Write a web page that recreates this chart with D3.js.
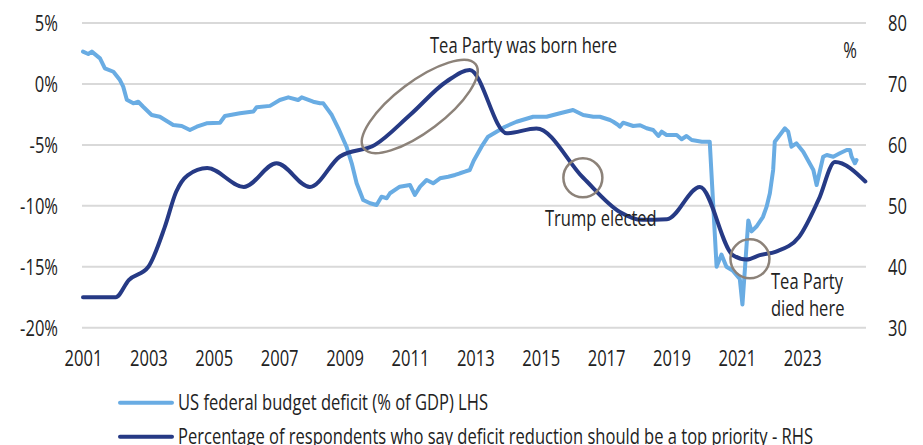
<!DOCTYPE html>
<html>
<head>
<meta charset="utf-8">
<script src="https://cdn.jsdelivr.net/npm/d3@7"></script>
<style>
  html, body { margin: 0; padding: 0; background: #fff; }
  svg text { font-family: "Open Sans", "Noto Sans", sans-serif; fill: #222; }
</style>
</head>
<body>
<svg id="chart" width="923" height="445"></svg>
<script>
// ---- data ----
const yearTicks = [2001, 2003, 2005, 2007, 2009, 2011, 2013, 2015, 2017, 2019, 2021, 2023];
const leftTicks = [5, 0, -5, -10, -15, -20];
const rightTicks = [80, 70, 60, 50, 40, 30];

// US federal budget deficit (% of GDP), LHS — date in decimal years
const deficitDates = [2001.0, 2001.16, 2001.27, 2001.52, 2001.67, 2001.93, 2002.13, 2002.23, 2002.34, 2002.54, 2002.69, 2002.84,
  2003.10, 2003.35, 2003.76, 2004.02, 2004.27, 2004.48, 2004.78, 2005.19, 2005.34, 2005.80, 2006.21, 2006.31, 2006.72,
  2007.02, 2007.28, 2007.58, 2007.69, 2008.04, 2008.25, 2008.35, 2008.61, 2008.81, 2009.06, 2009.22, 2009.37, 2009.57,
  2009.78, 2009.98, 2010.13, 2010.29, 2010.39, 2010.69, 2011.00, 2011.15, 2011.31, 2011.51, 2011.71, 2011.92, 2012.17,
  2012.38, 2012.53, 2012.68, 2012.83, 2012.95, 2013.19, 2013.39, 2013.65, 2013.91, 2014.26, 2014.77, 2015.18, 2015.59,
  2015.99, 2016.30, 2016.61, 2016.81, 2017.12, 2017.22, 2017.37, 2017.42, 2017.52, 2017.83, 2018.04, 2018.24, 2018.44,
  2018.60, 2018.70, 2018.85, 2019.16, 2019.31, 2019.46, 2019.62, 2019.93, 2020.17, 2020.38, 2020.53, 2020.68, 2020.87,
  2021.09, 2021.17, 2021.35, 2021.45, 2021.60, 2021.80, 2021.91, 2022.01, 2022.11, 2022.16, 2022.47, 2022.57, 2022.67,
  2022.82, 2023.03, 2023.34, 2023.44, 2023.64, 2023.75, 2023.95, 2024.15, 2024.36, 2024.46, 2024.51, 2024.61, 2024.66];
const deficitValues = [2.65, 2.46, 2.65, 2.1, 1.28, 1.0, 0.32, -0.22, -1.3, -1.59, -1.46, -1.87,
  -2.55, -2.69, -3.37, -3.45, -3.78, -3.51, -3.23, -3.18, -2.63, -2.41, -2.27, -1.92, -1.8,
  -1.32, -1.1, -1.32, -1.1, -1.46, -1.59, -1.59, -2.55, -3.64, -5.15, -6.51, -8.15, -9.52,
  -9.79, -9.93, -9.25, -9.38, -8.97, -8.43, -8.29, -9.11, -8.43, -7.88, -8.15, -7.74, -7.61,
  -7.47, -7.33, -7.2, -7.06, -6.3, -5.15, -4.33, -3.92, -3.51, -3.1, -2.69, -2.69, -2.41,
  -2.14, -2.55, -2.69, -2.69, -2.96, -3.1, -3.37, -3.51, -3.18, -3.45, -3.39, -3.64, -3.78,
  -4.27, -3.92, -4.19, -4.19, -4.54, -4.27, -4.6, -4.74, -4.74, -15.0, -14.0, -15.0, -15.3,
  -16.0, -18.1, -11.2, -12.1, -11.7, -10.9, -10.07, -8.97, -7.06, -4.74, -3.64, -3.92, -5.15,
  -4.87, -5.56, -7.06, -8.29, -5.97, -5.83, -5.97, -5.69, -5.42, -5.42, -5.97, -6.51, -6.24];

// Percentage of respondents: deficit reduction should be a top priority, RHS
const surveyDates = [2001.0, 2002.0, 2002.4, 2003.0, 2003.5, 2003.85, 2004.2, 2004.8, 2005.92, 2006.92, 2007.94, 2008.86,
  2009.93, 2011.0, 2012.12, 2012.83, 2013.96, 2014.87, 2016.3, 2017.42, 2018.1, 2018.86, 2019.87, 2020.88, 2021.3,
  2021.7, 2022.2, 2022.9, 2023.5, 2024.0, 2024.93];
const surveyValues = [35.0, 35.0, 37.8, 40.0, 46.5, 52.3, 55.0, 56.2, 53.1, 57.0, 53.1, 58.1,
  60.0, 64.9, 70.4, 72.3, 61.9, 62.7, 54.6, 49.0, 47.7, 47.8, 53.1, 41.9, 41.2,
  41.9, 42.5, 44.9, 51.0, 57.2, 54.0];

const legendLabels = ["US federal budget deficit (% of GDP) LHS",
  "Percentage of respondents who say deficit reduction should be a top priority - RHS"];

// ---- layout ----
const svg = d3.select("#chart");
const plot = { left: 83, right: 866, top: 23, bottom: 327.7 };
const x = d3.scaleLinear().domain([2001, 2024.95]).range([plot.left, plot.right]);
const yL = d3.scaleLinear().domain([-20, 5]).range([plot.bottom, plot.top]);
const yR = d3.scaleLinear().domain([30, 80]).range([plot.bottom, plot.top]);

const lightBlue = "#69ace3";
const navy = "#263a85";
const annoColor = "#8c8279";
const fontSize = 21;

// gridlines
svg.append("g").selectAll("line").data(leftTicks).join("line")
  .attr("x1", plot.left - 1).attr("x2", plot.right)
  .attr("y1", d => yL(d)).attr("y2", d => yL(d))
  .attr("stroke", "#d9d9d9").attr("stroke-width", 2);

// left axis
const gL = svg.append("g").attr("transform", `translate(58,0)`)
  .call(d3.axisLeft(yL).tickValues(leftTicks).tickSize(0).tickFormat(d => d + "%"));
gL.select(".domain").remove();
gL.selectAll("text").attr("font-size", fontSize).attr("x", 0).attr("dy", "0.36em");

// right axis
const gR = svg.append("g").attr("transform", `translate(888,0)`)
  .call(d3.axisRight(yR).tickValues(rightTicks).tickSize(0).tickFormat(d3.format("d")));
gR.select(".domain").remove();
gR.selectAll("text").attr("font-size", fontSize).attr("x", 0).attr("dy", "0.36em");

// bottom axis
const gB = svg.append("g").attr("transform", `translate(0,${plot.bottom})`)
  .call(d3.axisBottom(x).tickValues(yearTicks).tickSize(0).tickFormat(d3.format("d")));
gB.select(".domain").remove();
gB.selectAll("text").attr("font-size", fontSize).attr("y", 31).attr("dy", "0.36em");

// lines
const deficit = deficitDates.map((d, i) => [d, deficitValues[i]]);
const survey = surveyDates.map((d, i) => [d, surveyValues[i]]);

svg.append("path").datum(deficit)
  .attr("fill", "none").attr("stroke", lightBlue).attr("stroke-width", 4)
  .attr("stroke-linejoin", "round").attr("stroke-linecap", "round")
  .attr("d", d3.line().x(d => x(d[0])).y(d => yL(d[1])));

svg.append("path").datum(survey)
  .attr("fill", "none").attr("stroke", navy).attr("stroke-width", 4)
  .attr("stroke-linejoin", "round").attr("stroke-linecap", "round")
  .attr("d", d3.line().curve(d3.curveMonotoneX).x(d => x(d[0])).y(d => yR(d[1])));

// "%" unit label
svg.append("text").attr("x", 850).attr("y", 50).attr("text-anchor", "middle")
  .attr("dy", "0.36em").attr("font-size", fontSize).text("%");

// annotations
const anno = svg.append("g");
anno.append("ellipse")
  .attr("cx", x(2011.3)).attr("cy", yR(66.3)).attr("rx", 70).attr("ry", 25)
  .attr("transform", `rotate(-37, ${x(2011.3)}, ${yR(66.3)})`)
  .attr("fill", "none").attr("stroke", annoColor).attr("stroke-width", 2.5);
anno.append("text").attr("x", 430).attr("y", 45).attr("dy", "0.36em")
  .attr("font-size", fontSize).text("Tea Party was born here");

anno.append("circle").attr("cx", x(2016.29)).attr("cy", yR(54.6)).attr("r", 19.5)
  .attr("fill", "none").attr("stroke", annoColor).attr("stroke-width", 2.5);
anno.append("text").attr("x", 545).attr("y", 218).attr("dy", "0.36em")
  .attr("font-size", fontSize).text("Trump elected");

anno.append("circle").attr("cx", x(2021.4)).attr("cy", yR(41.3)).attr("r", 19.5)
  .attr("fill", "none").attr("stroke", annoColor).attr("stroke-width", 2.5);
anno.append("text").attr("x", 771).attr("y", 281).attr("dy", "0.36em")
  .attr("font-size", fontSize).text("Tea Party");
anno.append("text").attr("x", 771).attr("y", 308).attr("dy", "0.36em")
  .attr("font-size", fontSize).text("died here");

// legend
const legend = svg.append("g");
const legendColors = [lightBlue, navy];
const legendY = [402.7, 436.7];
legendLabels.forEach((lab, i) => {
  legend.append("line").attr("x1", 120).attr("x2", 172)
    .attr("y1", legendY[i]).attr("y2", legendY[i])
    .attr("stroke", legendColors[i]).attr("stroke-width", 4).attr("stroke-linecap", "round");
  legend.append("text").attr("class", "leg").attr("x", 178).attr("y", legendY[i]).attr("dy", "0.36em")
    .attr("font-size", fontSize).text(lab);
});

// condensed look: compress all text horizontally by one common factor,
// so that the longest legend entry spans the same width as in the reference
const longest = legend.selectAll("text.leg").nodes()[1];
const k = 635 / longest.getComputedTextLength();
svg.selectAll("text").each(function () {
  const w = this.getComputedTextLength();
  d3.select(this).attr("textLength", w * k).attr("lengthAdjust", "spacingAndGlyphs");
});
</script>
</body>
</html>
